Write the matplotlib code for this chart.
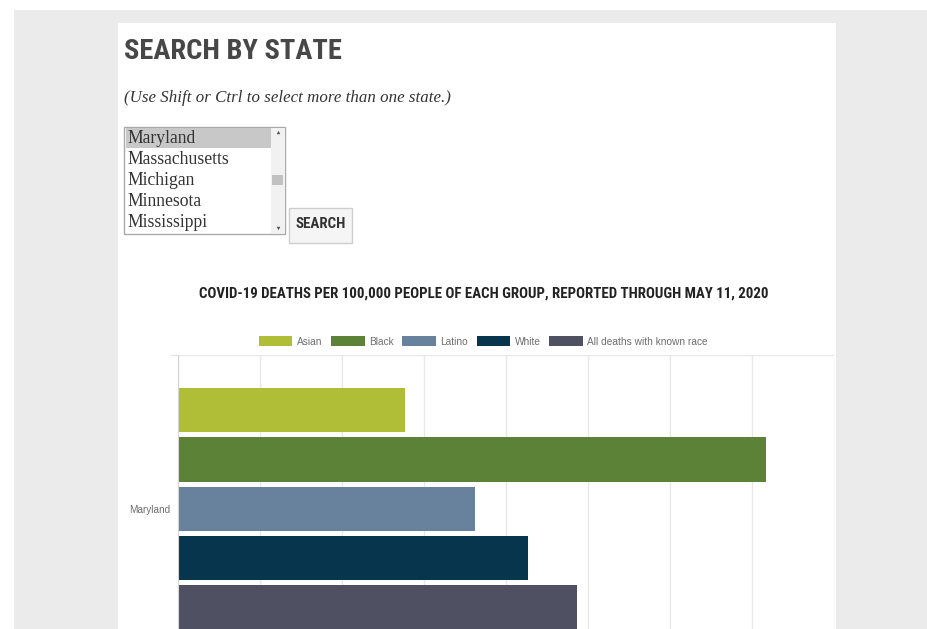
import matplotlib
matplotlib.use("Agg")
import matplotlib.pyplot as plt
from matplotlib.patches import Rectangle, Patch

# chart data (deaths per 100,000 people)
states = ["Maryland"]
groups = ["Asian", "Black", "Latino", "White", "All deaths with known race"]
rates = [13.8, 35.8, 18.1, 21.3, 24.3]
colors = ["#afbd37", "#5b8236", "#68819d", "#07354e", "#4f5061"]
x_ticks = [0, 5, 10, 15, 20, 25, 30, 35, 40]

# page widgets
listbox_items = ["Maryland", "Massachusetts", "Michigan", "Minnesota", "Mississippi"]
page_title = "SEARCH BY STATE"
hint = "(Use Shift or Ctrl to select more than one state.)"
chart_title = "COVID-19 DEATHS PER 100,000 PEOPLE OF EACH GROUP, REPORTED THROUGH MAY 11, 2020"

W, H = 928, 629
narrow = ["Liberation Sans Narrow", "Roboto Condensed", "Roboto", "DejaVu Sans"]
serif = ["Liberation Serif", "DejaVu Serif"]
sans = ["Liberation Sans", "DejaVu Sans"]

fig = plt.figure(figsize=(W / 100, H / 100), dpi=100)
fig.patch.set_facecolor("white")

# background layer in pixel coordinates
bg = fig.add_axes([0, 0, 1, 1], zorder=-1)
bg.set_xlim(0, W)
bg.set_ylim(H, 0)
bg.axis("off")
bg.add_patch(Rectangle((14, 10), W - 14, H - 10, color="#ebebeb", lw=0))
bg.add_patch(Rectangle((118, 23), 718, H - 23, color="white", lw=0))

bg.text(124, 59, page_title, family=narrow, weight="bold", fontsize=20.5,
        color="#474747", va="baseline")
bg.text(124, 102, hint, family=serif, style="italic", fontsize=12.2,
        color="#333333", va="baseline")

# listbox
bg.add_patch(Rectangle((124.5, 126.5), 161, 107, fc="white", ec="#a9a9a9", lw=1))
bg.add_patch(Rectangle((126, 127.5), 145, 20, fc="#c8c8c8", lw=0))
bg.add_patch(Rectangle((271, 127.5), 14, 105, fc="#f1f1f1", lw=0))
bg.add_patch(Rectangle((272.5, 175), 11, 10, fc="#c1c1c1", lw=0))
bg.plot([278], [132], marker="^", ms=2.5, color="#505050", mew=0)
bg.plot([278], [228], marker="v", ms=2.5, color="#505050", mew=0)
for i, name in enumerate(listbox_items):
    bg.text(127, 143 + 21 * i, name, family=serif, fontsize=12.7,
            color="#333333", va="baseline")

# search button
bg.add_patch(Rectangle((289.5, 207.5), 63, 35, fc="#f5f5f5", ec="#cfcfcf", lw=1))
bg.text(321, 224.5, "SEARCH", family=narrow, weight="bold", fontsize=10.8,
        color="#333333", ha="center", va="center")

bg.text(483.5, 294, chart_title, family=narrow, weight="bold", fontsize=10.7,
        color="#222222", ha="center", va="center")

# bar chart: one category, five grouped bars (chart.js style spacing)
left, right, top, bottom = 178.4, 834.4, 355, 662.5
ax = fig.add_axes([left / W, 1 - bottom / H, (right - left) / W, (bottom - top) / H])
slot = 0.8 / len(groups)
for i, (g, v, c) in enumerate(zip(groups, rates, colors)):
    ax.barh(0 + (i - 2) * slot, v, height=slot * 0.9, color=c, label=g, zorder=2)

ax.set_xlim(0, 40)
ax.set_ylim(0.5, -0.5)
ax.set_xticks(x_ticks)
ax.set_yticks(range(len(states)))
ax.set_yticklabels(states, family=sans, fontsize=7.2, color="#6e6e6e")
ax.set_yticks([-0.5, 0.5], minor=True)
ax.tick_params(axis="y", which="major", length=0, pad=6)
ax.tick_params(axis="y", which="minor", length=5.8, color="#e6e6e6", width=1)
ax.tick_params(axis="x", length=0, labelbottom=False)
ax.grid(axis="x", color="#e8e8e8", lw=1, zorder=0)
ax.grid(axis="y", which="minor", color="#e8e8e8", lw=1, zorder=0)
for s in ["top", "right", "bottom"]:
    ax.spines[s].set_visible(False)
ax.spines["left"].set_color("#d4d4d4")

handles = [Patch(facecolor=c, edgecolor="none") for c in colors]
fig.legend(handles, groups, loc="center", bbox_to_anchor=(483.5 / W, 1 - 341.5 / H),
           ncol=5, frameon=False, prop={"family": sans, "size": 7.3},
           labelcolor="#6e6e6e", handlelength=3.3, handleheight=1.0,
           handletextpad=0.45, columnspacing=0.85, borderpad=0)

fig.savefig("out.png", dpi=100)
